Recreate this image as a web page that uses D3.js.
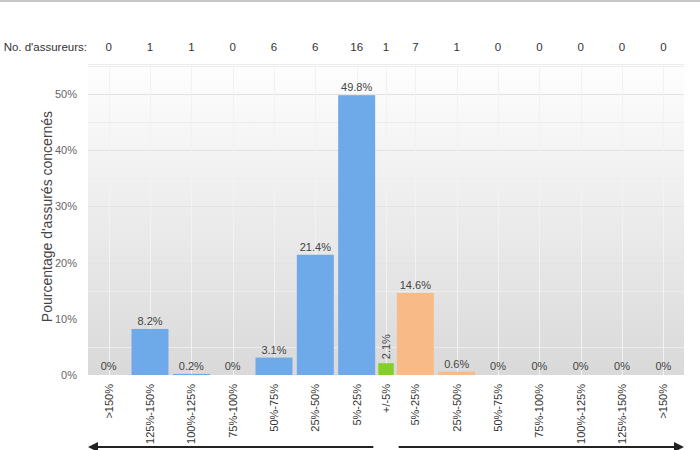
<!DOCTYPE html>
<html><head><meta charset="utf-8">
<script src="https://cdn.jsdelivr.net/npm/d3@7"></script>
<style>body{margin:0;background:#fff;font-family:"Liberation Sans",Arial,sans-serif;}</style>
</head><body><svg id="c" width="700" height="450"></svg>
<script>
const categories = [">150%","125%-150%","100%-125%","75%-100%","50%-75%","25%-50%","5%-25%","+/-5%","5%-25%","25%-50%","50%-75%","75%-100%","100%-125%","125%-150%",">150%"];
const values = [0, 8.2, 0.2, 0, 3.1, 21.4, 49.8, 2.1, 14.6, 0.6, 0, 0, 0, 0, 0];
const insurers = [0, 1, 1, 0, 6, 6, 16, 1, 7, 1, 0, 0, 0, 0, 0];
const groups = ["down","down","down","down","down","down","down","neutral","up","up","up","up","up","up","up"];
const yTicks = [0, 10, 20, 30, 40, 50];
const headerLabel = "No. d'assureurs:";
const yTitle = "Pourcentage d'assurés concernés";

const colors = {down:"#6eaaea", neutral:"#84cf2a", up:"#f8bb88"};
const weights = groups.map(g => g === "neutral" ? 0.42 : 1);
const starts = []; let acc = 0;
weights.forEach(w => { starts.push(acc); acc += w; });

const svg = d3.select("#c");
const L = 88, R = 684, T = 64, B = 375;
const x = d3.scaleLinear().domain([0, acc]).range([L, R]);
const y = d3.scaleLinear().domain([0, 55.35]).range([B, T]);
const center = i => x(starts[i] + weights[i] / 2);

// top border
svg.append("line").attr("x1",0).attr("x2",700).attr("y1",1).attr("y2",1).attr("stroke","#c8c8c8").attr("stroke-width",2);

// background gradient
const defs = svg.append("defs");
const grad = defs.append("linearGradient").attr("id","bg").attr("x1",0).attr("x2",0).attr("y1",0).attr("y2",1);
grad.append("stop").attr("offset","0%").attr("stop-color","#fefefe");
grad.append("stop").attr("offset","100%").attr("stop-color","#d9d9d9");
svg.append("rect").attr("x",L).attr("y",T).attr("width",R-L).attr("height",B-T).attr("fill","url(#bg)");

// horizontal grid every 5%
const minor = d3.range(5, 55.35, 5);
svg.append("g").selectAll("line").data(minor).join("line")
  .attr("x1",L).attr("x2",R).attr("y1",d=>Math.round(y(d))+0.5).attr("y2",d=>Math.round(y(d))+0.5)
  .attr("stroke",d=> d%10===0 ? "#e2e2e2" : "#ececec").attr("stroke-width",1);
// vertical grid at centers
svg.append("g").selectAll("line").data(categories).join("line")
  .attr("x1",(d,i)=>Math.round(center(i))+0.5).attr("x2",(d,i)=>Math.round(center(i))+0.5)
  .attr("y1",T).attr("y2",B).attr("stroke","#f2f2f2").attr("stroke-width",1);
// top line of plot
svg.append("line").attr("x1",L).attr("x2",R).attr("y1",T+0.5).attr("y2",T+0.5).attr("stroke","#ececec");

// y axis tick labels
const yAxis = d3.axisLeft(y).tickValues(yTicks).tickFormat(d=>d+"%").tickSize(0).tickPadding(11);
const ya = svg.append("g").attr("transform",`translate(${L},0)`).call(yAxis);
ya.select(".domain").remove();
ya.selectAll("text").attr("font-size",11).attr("fill","#666").attr("font-family","Liberation Sans, Arial, sans-serif");

// y title
svg.append("text").attr("transform",`translate(52,${(T+B)/2-3}) rotate(-90)`).attr("text-anchor","middle")
  .attr("font-size",14).attr("fill","#444").text(yTitle);

// bars
const bars = svg.append("g");
values.forEach((v,i)=>{
  const bw = x(weights[i]) - x(0);
  const w = bw * 0.895;
  const cx = center(i);
  const h = B - y(v);
  if (v > 0) {
    bars.append("rect").attr("x",cx-w/2).attr("y",y(v)).attr("width",w).attr("height",Math.max(h,1.2)).attr("fill",colors[groups[i]]);
  }
  const lbl = d3.format(".1~f")(v) + "%";
  if (groups[i] === "neutral") {
    bars.append("text").attr("transform",`translate(${cx+4},${y(v)-4}) rotate(-90)`)
      .attr("font-size",11).attr("fill","#444").text(lbl);
  } else {
    bars.append("text").attr("x",cx).attr("y",Math.min(y(v), B-1.2)-4).attr("text-anchor","middle")
      .attr("font-size",11).attr("fill","#444").text(lbl);
  }
});

// header row
svg.append("text").attr("x",L-1).attr("y",51).attr("text-anchor","end").attr("font-size",11.5).attr("fill","#333").text(headerLabel);
svg.append("g").selectAll("text").data(insurers).join("text")
  .attr("x",(d,i)=>center(i)).attr("y",51).attr("text-anchor","middle").attr("font-size",11.5).attr("fill","#333").text(d=>d);

// x labels rotated
svg.append("g").selectAll("text").data(categories).join("text")
  .attr("transform",(d,i)=>`translate(${center(i)+4},${B+9}) rotate(-90)`)
  .attr("text-anchor","end").attr("font-size",11).attr("fill","#333").text(d=>d);

// arrows
defs.append("marker").attr("id","ah").attr("viewBox","0 0 10 10").attr("refX",8).attr("refY",5)
  .attr("markerWidth",5).attr("markerHeight",5).attr("orient","auto-start-reverse")
  .append("path").attr("d","M0,0 L10,5 L0,10 z").attr("fill","#222");
const lx0 = x(starts[7]), rx0 = x(starts[8]);
svg.append("line").attr("x1",lx0-4).attr("x2",L+2).attr("y1",447).attr("y2",447).attr("stroke","#222").attr("stroke-width",2).attr("marker-end","url(#ah)");
svg.append("line").attr("x1",rx0+4).attr("x2",R-2).attr("y1",447).attr("y2",447).attr("stroke","#222").attr("stroke-width",2).attr("marker-end","url(#ah)");
</script></body></html>
